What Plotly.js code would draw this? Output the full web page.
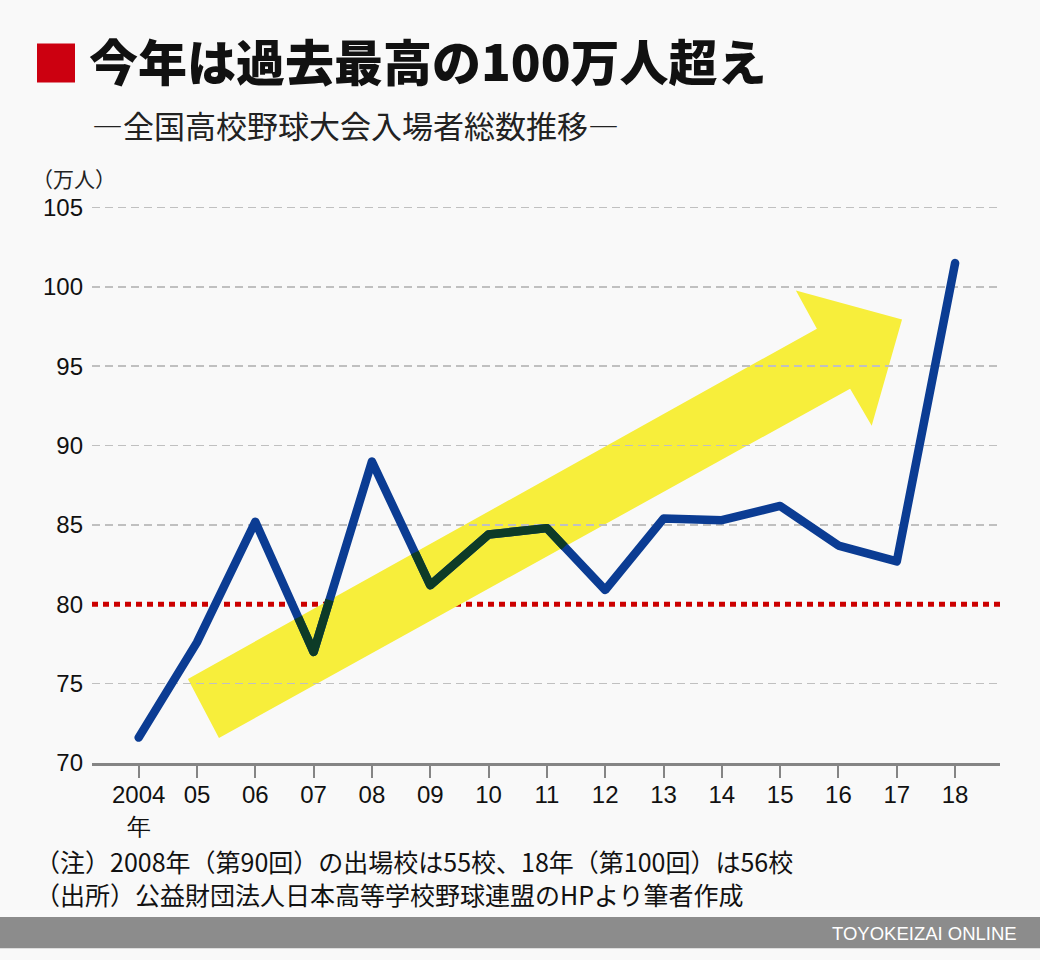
<!DOCTYPE html>
<html>
<head>
<meta charset="utf-8">
<script src="https://cdn.plot.ly/plotly-3.0.1.min.js"></script>
<style>
  html, body { margin: 0; padding: 0; background: #f9f9f9; }
  #chart { width: 1040px; height: 960px; }
  .scatterlayer .trace:nth-child(1) .js-line { stroke-linejoin: round !important; stroke-linecap: round !important; }
  .scatterlayer .trace:nth-child(2) .js-line { stroke-linejoin: round !important; stroke-linecap: butt !important; }
</style>
</head>
<body>
<div id="chart"></div>
<script>
// ---- data ----
const yearLabels = ['2004<br>年','05','06','07','08','09','10','11','12','13','14','15','16','17','18'];
const attendance = [71.6, 77.6, 85.2, 77.0, 89.0, 81.2, 84.4, 84.8, 80.9, 85.4, 85.3, 86.2, 83.7, 82.7, 101.5];
const yTicks = [70, 75, 80, 85, 90, 95, 100, 105];
const threshold = 80;

const titleText = '今年は過去最高の100万人超え';
const subtitleText = '―全国高校野球大会入場者総数推移―';
const unitText = '（万人）';
const note1Text = '（注）2008年（第90回）の出場校は55校、18年（第100回）は56校';
const note2Text = '（出所）公益財団法人日本高等学校野球連盟のHPより筆者作成';
const creditText = 'TOYOKEIZAI ONLINE';

// ---- layout helpers (pixel -> paper) ----
const yMin = 70, yMax = 105.1;               // tiny headroom so the 105 grid line is drawn
const L = 92, R = 1000, B = 763, W = 1040, H = 960;
const pxPerUnit = 555 / 35;
const T = B - (yMax - yMin) * pxPerUnit;
const px = v => (v - L) / (R - L);
const py = v => (B - v) / (B - T);

const xIdx = yearLabels.map((_, i) => i);
// grid lines everywhere except under the red threshold line and the axis line
const gridVals = yTicks.filter(v => v !== threshold && v !== yTicks[0]);

// decorative arrow (data coordinates: category index, value)
const arrowPts = [[0.845,75.30],[11.63,97.37],[11.27,99.77],[13.09,97.94],[12.57,91.25],[12.20,93.59],[1.377,71.58]];
const arrowPath = 'M' + arrowPts.map(p => p[0] + ',' + p[1]).join(' L') + ' Z';
// arrow shaft (convex quad) used to tint the line where it passes under the arrow
const shaft = [arrowPts[0], arrowPts[1], arrowPts[5], arrowPts[6]];

function clipSegment(p0, p1, poly) {
  let area = 0;
  for (let i = 0; i < poly.length; i++) {
    const a = poly[i], b = poly[(i + 1) % poly.length];
    area += a[0] * b[1] - b[0] * a[1];
  }
  const s = area > 0 ? 1 : -1;
  let t0 = 0, t1 = 1;
  for (let i = 0; i < poly.length; i++) {
    const a = poly[i], b = poly[(i + 1) % poly.length];
    const ex = b[0] - a[0], ey = b[1] - a[1];
    const f = p => s * (ex * (p[1] - a[1]) - ey * (p[0] - a[0]));
    const f0 = f(p0), f1 = f(p1);
    if (f0 < 0 && f1 < 0) return null;
    if (f0 < 0) t0 = Math.max(t0, f0 / (f0 - f1));
    else if (f1 < 0) t1 = Math.min(t1, f0 / (f0 - f1));
  }
  if (t0 >= t1) return null;
  const lerp = t => [p0[0] + t * (p1[0] - p0[0]), p0[1] + t * (p1[1] - p0[1])];
  return { a: lerp(t0), b: lerp(t1), t0, t1 };
}

const insideX = [], insideY = [];
let chainOpen = false;
for (let i = 0; i < attendance.length - 1; i++) {
  const c = clipSegment([xIdx[i], attendance[i]], [xIdx[i + 1], attendance[i + 1]], shaft);
  if (!c) { chainOpen = false; continue; }
  if (!(chainOpen && c.t0 === 0)) {
    if (insideX.length) { insideX.push(null); insideY.push(null); }
    insideX.push(c.a[0]); insideY.push(c.a[1]);
  }
  insideX.push(c.b[0]); insideY.push(c.b[1]);
  chainOpen = c.t1 === 1;
}

const cjk = '"Noto Sans CJK JP", "Noto Sans", sans-serif';
const latin = '"Liberation Sans", Arial, Helvetica, sans-serif';

const lineTrace = {
  type: 'scatter', mode: 'lines',
  x: xIdx, y: attendance,
  line: { color: '#0b3c93', width: 8.5 },
  hoverinfo: 'skip', cliponaxis: false
};
const underArrowTrace = {
  type: 'scatter', mode: 'lines',
  x: insideX, y: insideY,
  connectgaps: false,
  line: { color: '#0d3b27', width: 8.5 },
  hoverinfo: 'skip', cliponaxis: false
};

const layout = {
  width: W, height: H,
  paper_bgcolor: '#f9f9f9',
  plot_bgcolor: '#f9f9f9',
  margin: { l: L, r: W - R, t: T, b: H - B, pad: 0 },
  showlegend: false,
  title: {
    text: titleText,
    font: { family: cjk, size: 49, color: '#111', weight: 900 },
    xref: 'container', yref: 'container',
    x: 89 / W, xanchor: 'left',
    y: 1 - 64 / H, yanchor: 'middle'
  },
  xaxis: {
    range: [-0.8, 14.77],
    tickvals: xIdx,
    ticktext: yearLabels,
    showgrid: false,
    zeroline: false,
    showline: true,
    linecolor: '#858585',
    linewidth: 2.5,
    ticks: 'outside',
    ticklen: 12,
    tickwidth: 2,
    tickcolor: '#858585',
    tickfont: { family: latin, size: 24, color: '#111' },
    ticklabelstandoff: -3,
    fixedrange: true
  },
  yaxis: {
    range: [yMin, yMax],
    tickvals: yTicks,
    ticktext: yTicks.map(String),
    showgrid: false,
    zeroline: false,
    showline: false,
    ticks: '',
    tickfont: { family: latin, size: 24, color: '#111' },
    ticklabelstandoff: 8,
    minor: {
      tickmode: 'array',
      tickvals: gridVals,
      ticks: '',
      showgrid: true,
      gridcolor: '#c0c0c0',
      gridwidth: 1.6,
      griddash: '8px,5px'
    },
    fixedrange: true
  },
  shapes: [
    // red square beside title
    { type: 'rect', xref: 'paper', yref: 'paper', layer: 'below',
      x0: px(37), x1: px(75), y0: py(83), y1: py(44),
      fillcolor: '#cc0010', line: { width: 0 } },
    // footer band
    { type: 'rect', xref: 'paper', yref: 'paper', layer: 'below',
      x0: px(0), x1: px(W), y0: py(948), y1: py(917),
      fillcolor: '#8c8c8c', line: { width: 0 } },
    // yellow arrow (beneath grid lines)
    { type: 'path', xref: 'x', yref: 'y', layer: 'below',
      path: arrowPath,
      fillcolor: '#f7ee3b', line: { width: 0 } },
    // red dotted threshold line
    { type: 'line', xref: 'paper', yref: 'y', layer: 'between',
      x0: 0, x1: 1, y0: threshold, y1: threshold,
      line: { color: '#cc0000', width: 5, dash: '6px,5px' } }
  ],
  annotations: [
    { text: subtitleText, xref: 'paper', yref: 'paper', x: px(90), y: py(125),
      xanchor: 'left', yanchor: 'middle', showarrow: false,
      font: { family: cjk, size: 31, color: '#222' } },
    { text: unitText, xref: 'paper', yref: 'paper', x: px(30), y: py(178),
      xanchor: 'left', yanchor: 'middle', showarrow: false,
      font: { family: cjk, size: 21, color: '#222' } },
    { text: note1Text, xref: 'paper', yref: 'paper', x: px(33), y: py(861),
      xanchor: 'left', yanchor: 'middle', align: 'left', showarrow: false,
      font: { family: cjk, size: 25, color: '#111' } },
    { text: note2Text, xref: 'paper', yref: 'paper', x: px(33), y: py(894),
      xanchor: 'left', yanchor: 'middle', align: 'left', showarrow: false,
      font: { family: cjk, size: 25, color: '#111' } },
    { text: creditText, xref: 'paper', yref: 'paper', x: px(1019), y: py(933),
      xanchor: 'right', yanchor: 'middle', showarrow: false,
      font: { family: latin, size: 18.5, color: '#ffffff' } }
  ]
};

Plotly.newPlot('chart', [lineTrace, underArrowTrace], layout, { displayModeBar: false, staticPlot: true });
</script>
</body>
</html>
